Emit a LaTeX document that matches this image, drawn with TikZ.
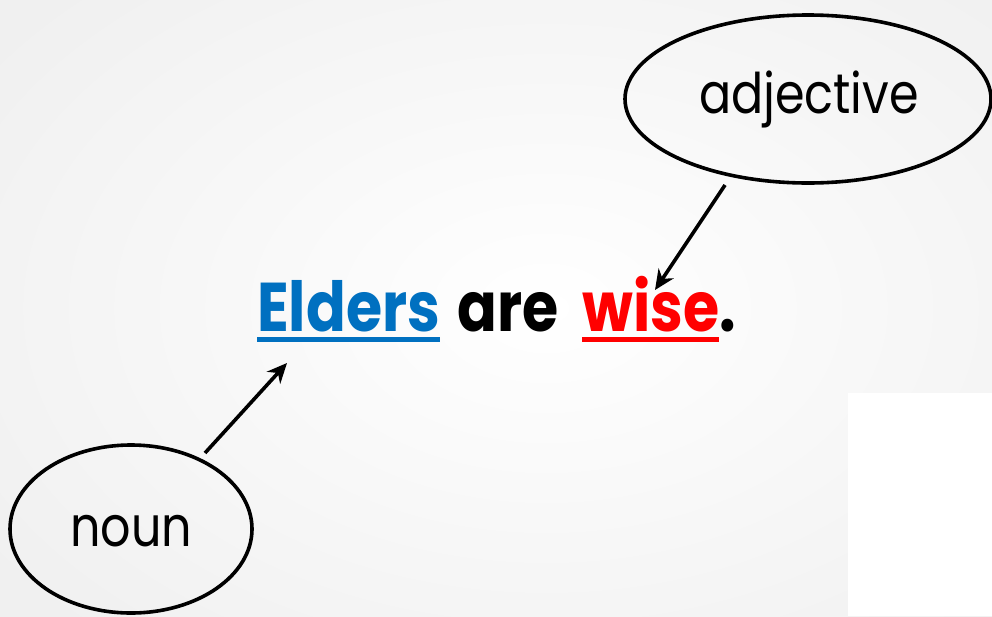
\documentclass[tikz,border=0pt]{standalone}
\usepackage{fontspec}
\setmainfont{Poppins}[FakeStretch=0.85]
\newfontfamily\boldpop{Poppins}[FakeStretch=0.85,UprightFont=* Bold]
\usetikzlibrary{shapes.geometric,arrows.meta}
\definecolor{eblue}{HTML}{0070C0}
\definecolor{wred}{HTML}{FF0000}
\tikzset{
  bubble/.style={ellipse,draw=black,line width=3.6pt,inner sep=0pt,font=\fontsize{56}{60}\selectfont},
  arr/.style={line width=3.6pt,-{Stealth[length=20pt,width=18pt]}},
  word/.style={inner sep=0pt,anchor=base west,font=\boldpop\fontsize{69}{72}\selectfont},
  uline/.style={line width=5pt}
}
\begin{document}
\begin{tikzpicture}[x=1pt,y=-1pt]
\useasboundingbox (0,0) rectangle (992,616);
\shade[inner color=white,outer color=gray!12] (-150,-150) rectangle (1242,766);
\fill[white] (848,393) rectangle (992,616);
\node[bubble,minimum width=366pt,minimum height=168pt] (adj) at (808,99) {};
\node[anchor=base,inner sep=0pt,font=\fontsize{56}{60}\selectfont] (adjtxt) at (809,113) {adjective};
\node[bubble,minimum width=242pt,minimum height=168pt] (noun) at (131,529) {};
\node[anchor=base,inner sep=0pt,font=\fontsize{56}{60}\selectfont] (nountxt) at (131,546) {noun};
\node[word,text=eblue] (elders) at (257,331) {Elders};
\node[word,text=black] (are) at (457,331) {are};
\node[word,text=wred] (wise) at (582,331) {wise};
\node[word,text=black] (dot) at (wise.base east) {.};
\draw[uline,eblue] ([yshift=-8]elders.base west) -- ([yshift=-8]elders.base east);
\draw[uline,wred] ([yshift=-8]wise.base west) -- ([yshift=-8]wise.base east);
\coordinate (adjfoot) at (725,185);
\coordinate (wisetop) at (655,290);
\coordinate (nounfoot) at (205,453);
\coordinate (elderslow) at (287,363);
\draw[arr] (adjfoot) -- (wisetop);
\draw[arr] (nounfoot) -- (elderslow);
\end{tikzpicture}
\end{document}
